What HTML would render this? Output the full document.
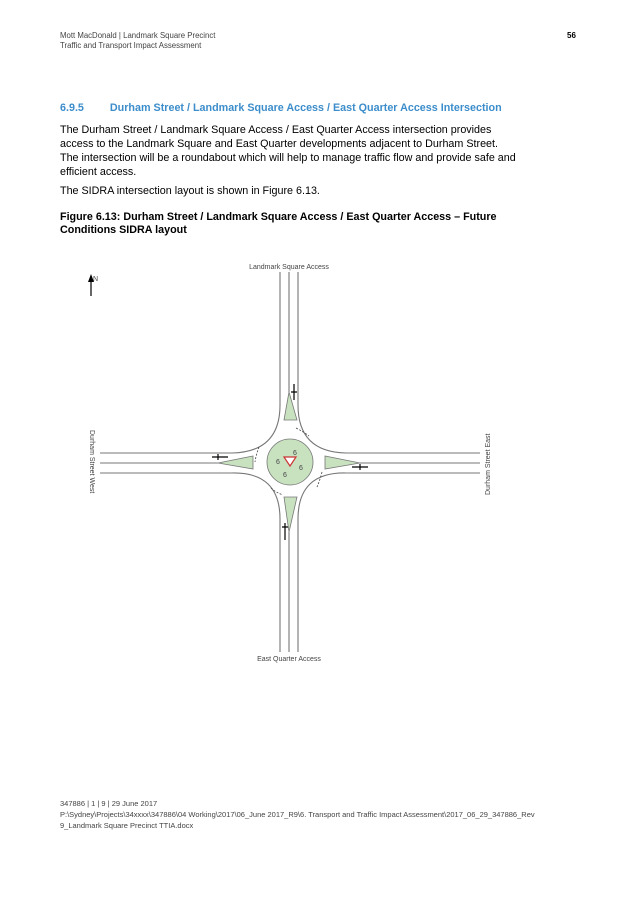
<!DOCTYPE html>
<html><head><meta charset="utf-8"><style>
body{margin:0;width:637px;height:901px;background:#fff;position:relative;font-family:"Liberation Sans",Arial,sans-serif;color:#000;overflow:hidden}
.a{position:absolute;white-space:nowrap}
.hd{font-size:7.8px;color:#444;line-height:10px}
.p{font-size:10.75px;line-height:14px;left:60px}
</style></head><body>
<div class="a hd" style="left:60px;top:31px">Mott MacDonald | Landmark Square Precinct<br>Traffic and Transport Impact Assessment</div>
<div class="a" style="left:567px;top:31px;font-size:8px;font-weight:bold">56</div>
<div class="a" style="left:60px;top:102px;font-size:10.75px;font-weight:bold;color:#3c8dcb">6.9.5<span style="display:inline-block;width:26px"></span>Durham Street / Landmark Square Access / East Quarter Access Intersection</div>
<div class="a p" style="top:123px">The Durham Street / Landmark Square Access / East Quarter Access intersection provides<br>access to the Landmark Square and East Quarter developments adjacent to Durham Street.<br>The intersection will be a roundabout which will help to manage traffic flow and provide safe and<br>efficient access.</div>
<div class="a p" style="top:184px">The SIDRA intersection layout is shown in Figure 6.13.</div>
<div class="a p" style="top:211px;font-weight:bold;line-height:13px">Figure 6.13: Durham Street / Landmark Square Access / East Quarter Access – Future<br>Conditions SIDRA layout</div>
<svg class="a" style="left:0;top:0" width="637" height="901">
<g fill="none" stroke="#777" stroke-width="1.1">
<path d="M280,272 V405 Q280,452 232,453 H100"/>
<path d="M298,272 V405 Q298,452 346,453 H480"/>
<path d="M280,652 V519 Q280,472 232,473 H100"/>
<path d="M298,652 V519 Q298,472 346,473 H480"/>
<path d="M289,272 V392 M289,532 V652 M100,463 H218 M360,463 H480"/>
</g>
<g fill="#c8e2c0" stroke="#777" stroke-width="0.8">
<path d="M289,392 L284,420 L297,420 Z"/>
<path d="M289,532 L284,497 L297,497 Z"/>
<path d="M218,463 L253,456 L253,469 Z"/>
<path d="M360,463 L325,456 L325,469 Z"/>
<circle cx="290" cy="462" r="23"/>
</g>
<g stroke="#444" stroke-width="0.8" stroke-dasharray="2,1.5" fill="none">
<path d="M296,428 Q304,432 309,436"/><path d="M259,447 Q256,455 255,462"/>
<path d="M271,488 Q275,492 283,495"/><path d="M322,472 Q320,480 317,487"/>
</g>
<g stroke="#000" stroke-width="1.2">
<path d="M294,384 V400 M291,392 H297"/><path d="M285,523 V540 M282,527 H288"/>
<path d="M212,457 H228 M218,454 V460"/><path d="M352,467 H368 M360,464 V470"/>
<path d="M91,296 V276"/>
</g>
<path d="M88,282 L91,274 L94,282Z" fill="#000"/>
<path d="M284,457 L296,457 L290,466Z" fill="#fff" stroke="#c33" stroke-width="1.2"/>
<g font-size="7" fill="#444" font-family="Liberation Sans,sans-serif">
<text x="93" y="281">N</text>
<text x="293" y="455">6</text><text x="276" y="464">6</text><text x="299" y="470">6</text><text x="283" y="477">6</text>
<text x="289" y="269" text-anchor="middle">Landmark Square Access</text>
<text x="289" y="661" text-anchor="middle">East Quarter Access</text>
<text transform="translate(90,430) rotate(90)">Durham Street West</text>
<text transform="translate(490,495) rotate(-90)">Durham Street East</text>
</g>
</svg>
<div class="a hd" style="left:60px;top:798px;line-height:11px;font-size:7.5px">347886 | 1 | 9 | 29 June 2017<br>P:\Sydney\Projects\34xxxx\347886\04 Working\2017\06_June 2017_R9\6. Transport and Traffic Impact Assessment\2017_06_29_347886_Rev<br>9_Landmark Square Precinct TTIA.docx</div>
</body></html>
